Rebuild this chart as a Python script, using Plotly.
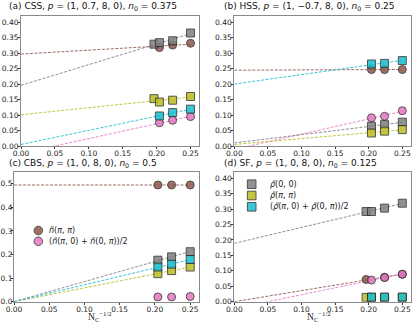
import numpy as np
import plotly.graph_objects as go

# cluster sizes; x axis is N_c^(-1/2)
n_c = [26, 24, 20, 16]

# series order in every panel
names = [
    "<i>ñ</i>(<i>π</i>, <i>π</i>)",
    "(<i>ñ</i>(<i>π</i>, 0) + <i>ñ</i>(0, <i>π</i>))/2",
    "<i>ρ\u0303</i>(0, 0)",
    "<i>ρ\u0303</i>(<i>π</i>, <i>π</i>)",
    "(<i>ρ\u0303</i>(<i>π</i>, 0) + <i>ρ\u0303</i>(0, <i>π</i>))/2",
]
colors = ["#8c564b", "#e377c2", "#7f7f7f", "#bcbd22", "#17becf"]
symbols = ["circle", "circle", "square", "square", "square"]

# (a) CSS
a_n_pipi = [None, 0.318, 0.326, 0.332]
a_n_pi0 = [None, 0.075, 0.083, 0.095]
a_rho00 = [0.329, 0.334, 0.340, 0.365]
a_rho_pipi = [0.153, 0.142, 0.148, 0.160]
a_rho_pi0 = [None, 0.097, 0.108, 0.119]
a_extrap = [0.297, -0.024, 0.196, 0.101, 0.005]

# (b) HSS
b_n_pipi = [None, 0.247, 0.247, 0.247]
b_n_pi0 = [None, 0.091, 0.096, 0.114]
b_rho00 = [None, 0.064, 0.069, 0.077]
b_rho_pipi = [None, 0.042, 0.048, 0.053]
b_rho_pi0 = [None, 0.265, 0.267, 0.276]
b_extrap = [0.245, -0.011, 0.010, 0.005, 0.200]

# (c) CBS
c_n_pipi = [None, 0.495, 0.495, 0.495]
c_n_pi0 = [None, 0.020, 0.020, 0.022]
c_rho00 = [None, 0.176, 0.190, 0.212]
c_rho_pipi = [None, 0.119, 0.132, 0.147]
c_rho_pi0 = [None, 0.147, 0.159, 0.179]
c_extrap = [0.495, None, 0.0, 0.0, 0.0]

# (d) SF
d_n_pipi = [0.072, None, 0.079, 0.089]
d_n_pi0 = [None, 0.070, 0.078, 0.089]
d_rho00 = [0.292, 0.292, 0.303, 0.319]
d_rho_pipi = [0.014, 0.014, 0.014, 0.014]
d_rho_pi0 = [None, 0.015, 0.015, 0.015]
d_extrap = [0.0, -0.022, 0.189, None, None]

titles = [
    "(a) CSS, <i>p</i> = (1, 0.7, 8, 0), <i>n</i><sub>0</sub> = 0.375",
    "(b) HSS, <i>p</i> = (1, \u22120.7, 8, 0), <i>n</i><sub>0</sub> = 0.25",
    "(c) CBS, <i>p</i> = (1, 0, 8, 0), <i>n</i><sub>0</sub> = 0.5",
    "(d) SF, <i>p</i> = (1, 0, 8, 0), <i>n</i><sub>0</sub> = 0.125",
]

panels = [
    [a_n_pipi, a_n_pi0, a_rho00, a_rho_pipi, a_rho_pi0],
    [b_n_pipi, b_n_pi0, b_rho00, b_rho_pipi, b_rho_pi0],
    [c_n_pipi, c_n_pi0, c_rho00, c_rho_pipi, c_rho_pi0],
    [d_n_pipi, d_n_pi0, d_rho00, d_rho_pipi, d_rho_pi0],
]
extraps = [a_extrap, b_extrap, c_extrap, d_extrap]

x = np.array(n_c, dtype=float) ** -0.5

W, H = 415, 328
FONT = "DejaVu Sans"
EDGE = "rgba(40,40,40,0.9)"
fig = go.Figure()

for p, (series, ext) in enumerate(zip(panels, extraps)):
    ax = "" if p == 0 else str(p + 1)
    # dashed extrapolation lines, fixed intercept, least squares slope
    for k, vals in enumerate(series):
        if ext[k] is None:
            continue
        xv = np.array([xi for xi, v in zip(x, vals) if v is not None])
        yv = np.array([v for v in vals if v is not None])
        slope = np.sum(xv * (yv - ext[k])) / np.sum(xv**2)
        xs = np.array([0.0, x.max()])
        fig.add_trace(go.Scatter(
            x=xs, y=ext[k] + slope * xs, mode="lines",
            line=dict(color=colors[k], width=1, dash="3px,1.5px"),
            opacity=0.85, showlegend=False, hoverinfo="skip",
            xaxis="x" + ax, yaxis="y" + ax,
        ))
    for k, vals in enumerate(series):
        fig.add_trace(go.Scatter(
            x=x, y=vals, mode="markers", name=names[k],
            marker=dict(symbol=symbols[k], size=8, color=colors[k], opacity=0.85,
                        line=dict(color=EDGE, width=1)),
            showlegend=False, xaxis="x" + ax, yaxis="y" + ax,
        ))

xdom = [[21 / W, 199 / W], [234.3 / W, 410.7 / W], [14 / W, 199 / W], [234.3 / W, 410.7 / W]]
ydom_top = [1 - 146 / H, 1 - 16 / H]
ydom_bot = [1 - 301.7 / H, 1 - 172 / H]
ydom = [ydom_top, ydom_top, ydom_bot, ydom_bot]

axis_style = dict(
    showline=True, linecolor="#8a8a8a", linewidth=1, mirror=True,
    ticks="outside", ticklen=2, tickwidth=0.8, tickcolor="#333",
    ticklabelstandoff=-2,
    showgrid=False, zeroline=False, automargin=False,
    tickfont=dict(family=FONT, size=7.5, color="#222"),
)

layout = {}
for p in range(4):
    ax = "" if p == 0 else str(p + 1)
    xa = dict(axis_style, domain=xdom[p], range=[0, 0.2625], dtick=0.05,
              tickformat=".2f", anchor="y" + ax)
    if p == 2:
        ya = dict(axis_style, domain=ydom[p], range=[0, 0.55], dtick=0.1,
                  tickformat=".1f", anchor="x" + ax, ticklabelstandoff=-3)
    else:
        ya = dict(axis_style, domain=ydom[p], range=[0, 0.42], dtick=0.05,
                  tickformat=".2f", anchor="x" + ax)
    layout["xaxis" + ax] = xa
    layout["yaxis" + ax] = ya

tx = [7 / W, 222 / W, 7 / W, 222 / W]
ty = [1 - 6 / H, 1 - 6 / H, 1 - 163 / H, 1 - 163 / H]
annotations = [
    dict(text=t, x=tx[i], y=ty[i], xref="paper", yref="paper", xanchor="left",
         yanchor="middle", showarrow=False, font=dict(family=FONT, size=9, color="#111"))
    for i, t in enumerate(titles)
]
# x axis titles for the bottom row
for xc in [100 / W, 319 / W]:
    annotations.append(dict(
        text="N<sub>C</sub><sup>\u22121/2</sup>", x=xc, y=1 - 316.5 / H,
        xref="paper", yref="paper", xanchor="center", yanchor="middle",
        showarrow=False, font=dict(family="Liberation Serif", size=9.5, color="#222"),
    ))

# hand-built legends (keys + labels) to keep the tight matplotlib spacing
shapes = []
leg_c = [(0, 38.3, 230.5, 46.7), (1, 38.3, 241.3, 46.7)]
leg_d = [(2, 251.7, 184.2, 268.3), (3, 251.7, 195.5, 268.3), (4, 251.7, 206.8, 268.3)]
for k, mx, my, txx in leg_c + leg_d:
    r = 4.3
    shapes.append(dict(
        type="circle" if symbols[k] == "circle" else "rect", xref="paper", yref="paper",
        x0=(mx - r) / W, x1=(mx + r) / W, y0=1 - (my + r) / H, y1=1 - (my - r) / H,
        fillcolor=colors[k], opacity=0.85, line=dict(color=EDGE, width=1),
    ))
    annotations.append(dict(
        text=names[k], x=txx / W, y=1 - my / H, xref="paper", yref="paper",
        xanchor="left", yanchor="middle", showarrow=False,
        font=dict(family=FONT, size=8, color="#222"),
    ))

fig.update_layout(
    width=W, height=H, margin=dict(l=0, r=0, t=0, b=0, autoexpand=False),
    paper_bgcolor="white", plot_bgcolor="white",
    annotations=annotations, shapes=shapes, showlegend=False,
    **layout,
)

fig.write_html("out.html", config={"displayModeBar": False},
               post_script="document.body.style.margin='0';")
